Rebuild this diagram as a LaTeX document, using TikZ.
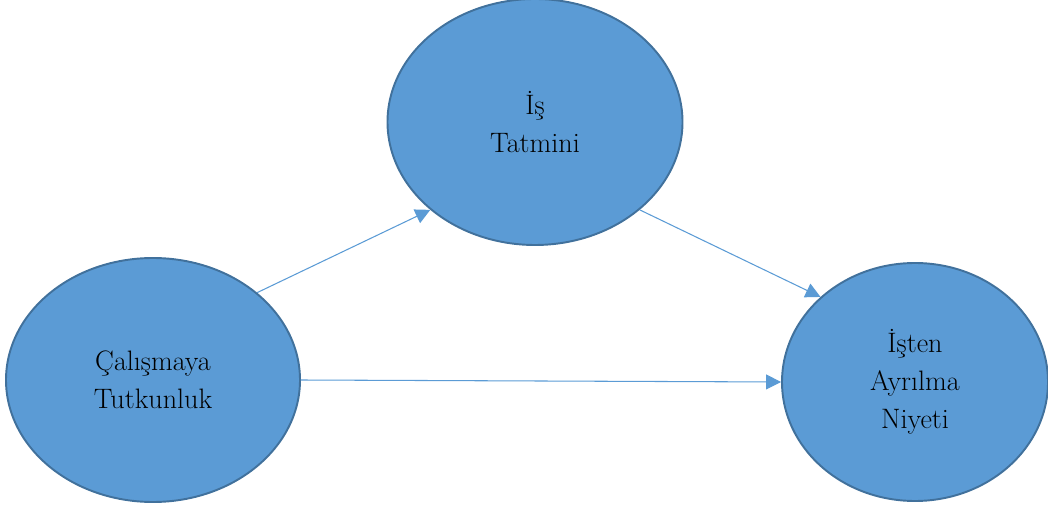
\documentclass[tikz,border=0pt]{standalone}
\usetikzlibrary{arrows.meta,shapes.geometric}
\definecolor{ovalfill}{HTML}{5B9BD5}
\definecolor{ovaledge}{HTML}{41719C}
\begin{document}
\begin{tikzpicture}[
    oval/.style={ellipse, draw=ovaledge, fill=ovalfill, line width=1.1pt, inner sep=0pt, align=center,
                 font=\fontsize{16}{21.5}\selectfont},
    link/.style={draw=ovalfill, line width=0.6pt, -{Triangle[length=8.5pt,width=8.5pt]}}
]
    \useasboundingbox (0,0) rectangle (20.96,10.16);

    \node[oval, minimum width=5.88cm, minimum height=4.88cm] (passion) at (3.06,2.56) {Çalışmaya\\Tutkunluk};
    \node[oval, minimum width=5.9cm, minimum height=4.92cm] (satis) at (10.7,7.72) {İş\\Tatmini};
    \node[oval, minimum width=5.32cm, minimum height=4.76cm] (quit) at (18.3,2.52) {İşten\\Ayrılma\\Niyeti};

    \draw[link] (passion.40) -- (satis.220);
    \draw[link] (satis.320) -- (quit.138);
    \draw[link] (passion.0) -- (quit.180);
\end{tikzpicture}
\end{document}
